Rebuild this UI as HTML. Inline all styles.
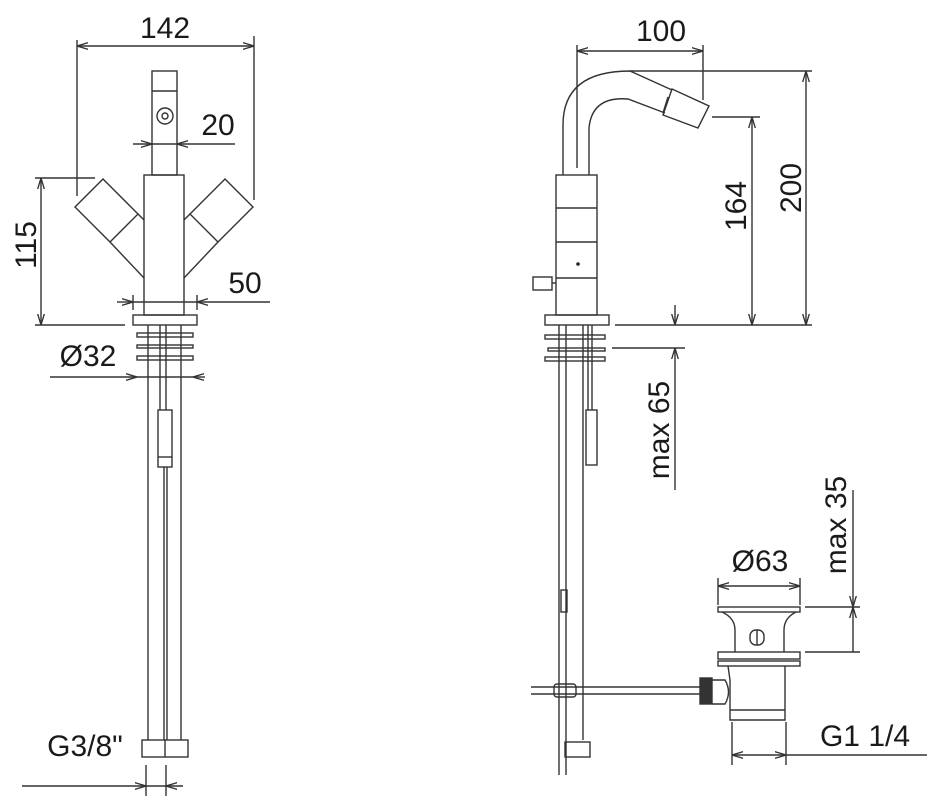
<!DOCTYPE html>
<html><head><meta charset="utf-8"><style>
html,body{margin:0;padding:0;background:#fff;}
svg{display:block;}
text{font-family:"Liberation Sans",sans-serif;fill:#1a1a1a;font-size:30px;}
</style></head><body>
<svg width="927" height="800" viewBox="0 0 927 800" xmlns="http://www.w3.org/2000/svg">
<defs>
<marker id="a" viewBox="0 0 10 10" refX="10" refY="5" markerWidth="8" markerHeight="8" orient="auto-start-reverse"><path d="M0,2 L10,5 L0,8" fill="none" stroke="#333" stroke-width="1.2"/></marker>
</defs>
<g fill="none" stroke="#333" stroke-width="1.4">
<!-- LEFT VIEW -->
<line x1="77" y1="40" x2="77" y2="196"/><line x1="254" y1="36" x2="254" y2="200"/>
<line x1="77" y1="46" x2="254" y2="46" marker-start="url(#a)" marker-end="url(#a)"/>
<rect x="152" y="71" width="25" height="104"/><line x1="152" y1="91" x2="177" y2="91"/>
<circle cx="165" cy="116" r="8"/><circle cx="165" cy="116" r="3"/>
<line x1="133" y1="144" x2="152" y2="144" marker-end="url(#a)"/><line x1="235" y1="144" x2="177" y2="144" marker-end="url(#a)"/>
<line x1="152" y1="144" x2="177" y2="144"/>
<rect x="144" y="175" width="40" height="140"/>
<polygon points="75,207 103,179 138,214 110,242"/>
<line x1="110" y1="242" x2="144" y2="278"/><line x1="138" y1="214" x2="144" y2="220"/>
<polygon points="253,207 225,179 190,214 218,242"/>
<line x1="218" y1="242" x2="184" y2="278"/><line x1="190" y1="214" x2="184" y2="220"/>
<line x1="35" y1="178" x2="95" y2="178"/><line x1="35" y1="325" x2="125" y2="325"/>
<line x1="41" y1="178" x2="41" y2="325" marker-start="url(#a)" marker-end="url(#a)"/>
<line x1="133" y1="295" x2="133" y2="310"/><line x1="197" y1="295" x2="197" y2="310"/>
<line x1="117" y1="302" x2="133" y2="302" marker-end="url(#a)"/><line x1="270" y1="302" x2="197" y2="302" marker-end="url(#a)"/>
<line x1="133" y1="302" x2="197" y2="302"/>
<rect x="133" y="315" width="64" height="10"/>
<rect x="137" y="333" width="56" height="4"/><rect x="137" y="345" width="56" height="3"/><rect x="137" y="356" width="56" height="4"/>
<line x1="50" y1="377" x2="137" y2="377" marker-end="url(#a)"/><line x1="205" y1="377" x2="193" y2="377" marker-end="url(#a)"/>
<line x1="137" y1="377" x2="193" y2="377"/>
<line x1="148" y1="325" x2="148" y2="740"/><line x1="181" y1="325" x2="181" y2="740"/>
<line x1="160" y1="325" x2="160" y2="410"/><line x1="166" y1="325" x2="166" y2="410"/>
<rect x="158" y="410" width="14" height="57"/><line x1="158" y1="457" x2="172" y2="457"/>
<line x1="164" y1="467" x2="164" y2="740"/><line x1="167" y1="467" x2="167" y2="740"/>
<rect x="142" y="740" width="46" height="17"/><line x1="165" y1="740" x2="165" y2="757"/>
<line x1="146" y1="765" x2="146" y2="796"/><line x1="166" y1="765" x2="166" y2="796"/>
<line x1="22" y1="786" x2="146" y2="786" marker-end="url(#a)"/><line x1="183" y1="786" x2="166" y2="786" marker-end="url(#a)"/>
<line x1="146" y1="786" x2="166" y2="786"/>

<!-- RIGHT VIEW -->
<line x1="577" y1="45" x2="577" y2="168"/><line x1="703" y1="45" x2="703" y2="100"/>
<line x1="577" y1="51" x2="703" y2="51" marker-start="url(#a)" marker-end="url(#a)"/>
<path d="M563,175 L563,125 Q563,71 630,71 L672,90"/>
<path d="M589,175 L589,128 Q592,96 628,99 L665,113"/>
<polygon points="672,89 709,106 698,128 663,115"/>
<line x1="668" y1="97" x2="663" y2="113"/>
<line x1="630" y1="71" x2="812" y2="71"/><line x1="615" y1="325" x2="812" y2="325"/>
<line x1="806" y1="71" x2="806" y2="325" marker-start="url(#a)" marker-end="url(#a)"/>
<line x1="712" y1="117" x2="760" y2="117"/>
<line x1="752" y1="117" x2="752" y2="325" marker-start="url(#a)" marker-end="url(#a)"/>
<rect x="556" y="175" width="41" height="140"/>
<line x1="556" y1="208" x2="597" y2="208"/><line x1="556" y1="242" x2="597" y2="242"/><line x1="556" y1="278" x2="597" y2="278"/>
<rect x="533" y="277" width="19" height="13"/><line x1="552" y1="283" x2="556" y2="283"/>
<rect x="545" y="315" width="64" height="10"/>
<rect x="545" y="335" width="60" height="4"/><rect x="548" y="348" width="57" height="3"/><rect x="545" y="357" width="60" height="4"/>
<line x1="612" y1="348" x2="685" y2="348"/>
<line x1="675" y1="305" x2="675" y2="325" marker-end="url(#a)"/>
<line x1="675" y1="490" x2="675" y2="348" marker-end="url(#a)"/>
<line x1="559" y1="325" x2="559" y2="775"/><line x1="566" y1="325" x2="566" y2="775"/>
<line x1="583" y1="325" x2="583" y2="740"/>
<line x1="588" y1="325" x2="588" y2="410"/><line x1="592" y1="325" x2="592" y2="410"/>
<rect x="586" y="410" width="11" height="55"/>
<rect x="561" y="590" width="6" height="22"/>
<rect x="565" y="742" width="25" height="15"/>
<line x1="531" y1="687" x2="700" y2="687"/><line x1="531" y1="694" x2="700" y2="694"/>
<rect x="554" y="684" width="22" height="13" rx="3"/>
<!-- drain -->
<line x1="718" y1="578" x2="718" y2="605"/><line x1="800" y1="578" x2="800" y2="605"/>
<line x1="718" y1="586" x2="800" y2="586" marker-start="url(#a)" marker-end="url(#a)"/>
<rect x="718" y="607" width="82" height="5"/>
<path d="M722,612 Q735,618 735,630 L735,652 M796,612 Q784,618 784,630 L784,652"/>
<rect x="750" y="630" width="14" height="15" rx="6"/><line x1="757" y1="630" x2="757" y2="645"/>
<rect x="718" y="652" width="82" height="7"/><rect x="718" y="661" width="82" height="5"/>
<path d="M728,666 L730,680 L730,720 L785,720 L785,666"/>
<line x1="730" y1="710" x2="785" y2="710"/>
<rect x="700" y="678" width="12" height="26" fill="#333"/>
<path d="M712,680 L725,680 Q732,692 725,704 L712,704"/>
<line x1="805" y1="607" x2="860" y2="607"/><line x1="805" y1="652" x2="860" y2="652"/>
<line x1="853" y1="490" x2="853" y2="607" marker-end="url(#a)"/>
<line x1="853" y1="652" x2="853" y2="607" marker-end="url(#a)"/>
<line x1="732" y1="722" x2="732" y2="765"/><line x1="786" y1="722" x2="786" y2="765"/>
<line x1="732" y1="755" x2="786" y2="755" marker-start="url(#a)" marker-end="url(#a)"/>
<line x1="786" y1="755" x2="927" y2="755"/>
</g>
<circle cx="578" cy="264" r="1.8" fill="#222"/>
<text x="165" y="38" text-anchor="middle">142</text>
<text x="218" y="135" text-anchor="middle">20</text>
<text x="245" y="293" text-anchor="middle">50</text>
<text x="88" y="366" text-anchor="middle">Ø32</text>
<text x="85" y="756" text-anchor="middle">G3/8"</text>
<text transform="translate(36,245) rotate(-90)" text-anchor="middle">115</text>
<text x="661" y="41" text-anchor="middle">100</text>
<text transform="translate(801,188) rotate(-90)" text-anchor="middle">200</text>
<text transform="translate(746,206) rotate(-90)" text-anchor="middle">164</text>
<text transform="translate(669,430) rotate(-90)" text-anchor="middle">max 65</text>
<text transform="translate(846,525) rotate(-90)" text-anchor="middle">max 35</text>
<text x="760" y="571" text-anchor="middle">Ø63</text>
<text x="865" y="746" text-anchor="middle">G1 1/4</text>
</svg>
</body></html>
